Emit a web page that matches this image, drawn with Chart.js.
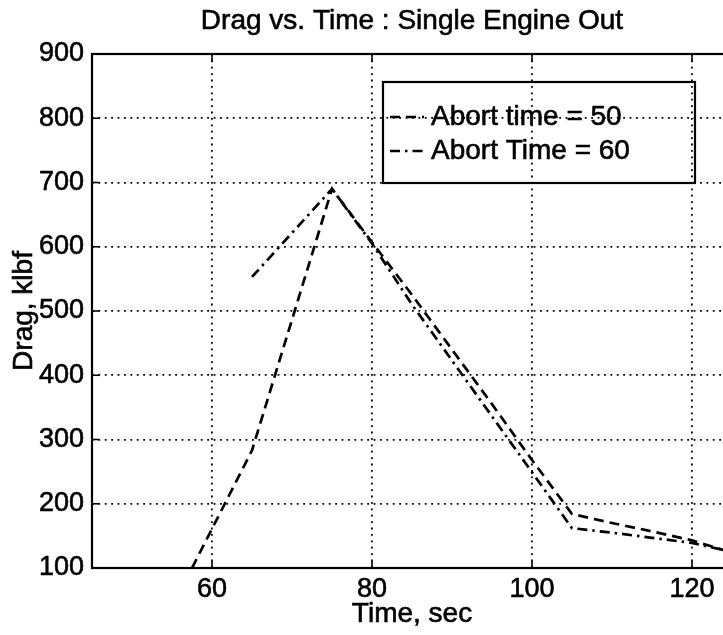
<!DOCTYPE html>
<html>
<head>
<meta charset="utf-8">
<script src="https://cdn.jsdelivr.net/npm/chart.js@4/dist/chart.umd.min.js"></script>
<style>
  html, body { margin: 0; padding: 0; background: #fff; overflow: hidden; width: 723px; height: 635px; }
  #wrap { position: relative; width: 760px; height: 635px; }
</style>
</head>
<body>
<div id="wrap"><canvas id="c"></canvas></div>
<script>
// Abort at t = 50 s
const time50 = [57.5, 65, 75, 80, 85, 90, 95, 100, 105, 110, 115, 120, 125];
const drag50 = [100, 283, 690, 607, 525, 440, 355, 268, 184, 170, 157, 143, 124];
// Abort at t = 60 s
const time60 = [65, 75, 80, 85, 90, 95, 100, 105, 110, 115, 120, 125];
const drag60 = [553, 690, 605, 510, 423, 336, 249, 162, 155, 147, 139, 125];

const xTicks = [60, 80, 100, 120];
const xRange = [45, 125];
const yRange = [100, 900];
const seriesLabels = ['Abort time = 50', 'Abort Time = 60'];
const titleText = 'Drag vs. Time : Single Engine Out';
const xTitle = 'Time, sec';
const yTitle = 'Drag, klbf';

const FONT = '"Liberation Sans", Arial, Helvetica, sans-serif';
const DASH = [10, 6];
const DASHDOT = [10, 5, 2.5, 5];
const TEXT_STROKE = 0.6;

const toPoints = (xs, ys) => xs.map((x, i) => ({ x: x, y: ys[i] }));

function drawText(ctx, str, x, y) {
  ctx.lineWidth = TEXT_STROKE;
  ctx.strokeStyle = '#000';
  ctx.setLineDash([]);
  ctx.strokeText(str, x, y);
  ctx.fillText(str, x, y);
}

// Frame, inward tick marks, titles and legend box
const decor = {
  id: 'decor',
  afterDatasetsDraw(chart) {
    const { ctx, chartArea: a, scales } = chart;
    ctx.save();
    ctx.strokeStyle = '#000';
    ctx.lineWidth = 2.2;
    ctx.setLineDash([]);
    ctx.strokeRect(a.left, a.top, a.right - a.left, a.bottom - a.top);
    ctx.lineWidth = 1.6;
    xTicks.forEach(v => {
      const px = scales.x.getPixelForValue(v);
      ctx.beginPath();
      ctx.moveTo(px, a.bottom); ctx.lineTo(px, a.bottom - 7);
      ctx.moveTo(px, a.top); ctx.lineTo(px, a.top + 7);
      ctx.stroke();
    });
    scales.y.ticks.forEach(t => {
      const py = scales.y.getPixelForValue(t.value);
      ctx.beginPath();
      ctx.moveTo(a.left, py); ctx.lineTo(a.left + 7, py);
      ctx.stroke();
    });

    // legend (transparent box, grid shows through)
    const lx = 383, ly = 82, lw = 312, lh = 101;
    ctx.lineWidth = 2.2;
    ctx.strokeRect(lx, ly, lw, lh);
    const rows = [115, 149];
    const dashes = [DASH, DASHDOT];
    ctx.font = '28px ' + FONT;
    ctx.textAlign = 'left';
    ctx.textBaseline = 'alphabetic';
    ctx.fillStyle = '#000';
    rows.forEach((ry, i) => {
      ctx.lineWidth = 2.4;
      ctx.setLineDash(dashes[i]);
      ctx.beginPath();
      ctx.moveTo(390, ry + 2); ctx.lineTo(424, ry + 2);
      ctx.stroke();
      drawText(ctx, seriesLabels[i], 431, ry + 10);
    });

    // titles
    const cx = (a.left + a.right) / 2;
    ctx.textAlign = 'center';
    ctx.font = '28px ' + FONT;
    drawText(ctx, titleText, cx, 29);
    drawText(ctx, xTitle, cx, 622);
    ctx.save();
    ctx.translate(32, 311);
    ctx.rotate(-Math.PI / 2);
    drawText(ctx, yTitle, 0, 0);
    ctx.restore();
    ctx.restore();
  }
};

new Chart(document.getElementById('c'), {
  type: 'line',
  data: {
    datasets: [
      { label: seriesLabels[0], data: toPoints(time50, drag50), borderColor: '#000', borderWidth: 2.7, borderDash: DASH, pointRadius: 0, fill: false, tension: 0 },
      { label: seriesLabels[1], data: toPoints(time60, drag60), borderColor: '#000', borderWidth: 2.7, borderDash: DASHDOT, pointRadius: 0, fill: false, tension: 0 }
    ]
  },
  options: {
    responsive: true,
    maintainAspectRatio: false,
    animation: false,
    devicePixelRatio: 1,
    layout: { padding: { left: 0, top: 54, right: 28, bottom: 0 } },
    plugins: { legend: { display: false }, title: { display: false }, tooltip: { enabled: false } },
    scales: {
      x: {
        type: 'linear', min: xRange[0], max: xRange[1],
        afterBuildTicks: s => { s.ticks = xTicks.map(v => ({ value: v })); },
        afterFit: s => { s.height = 67; },
        ticks: { color: '#000', font: { family: FONT, size: 27 }, padding: 5, maxRotation: 0, autoSkip: false, textStrokeColor: '#000', textStrokeWidth: TEXT_STROKE },
        grid: { color: '#000', lineWidth: 1.8, drawTicks: false },
        border: { display: false, dash: [1.8, 4.6] }
      },
      y: {
        type: 'linear', min: yRange[0], max: yRange[1],
        afterFit: s => { s.width = 92; },
        ticks: { stepSize: 100, color: '#000', font: { family: FONT, size: 27 }, padding: 8, textStrokeColor: '#000', textStrokeWidth: TEXT_STROKE },
        grid: { color: '#000', lineWidth: 1.8, drawTicks: false },
        border: { display: false, dash: [1.8, 4.6] }
      }
    }
  },
  plugins: [decor]
});
</script>
</body>
</html>
